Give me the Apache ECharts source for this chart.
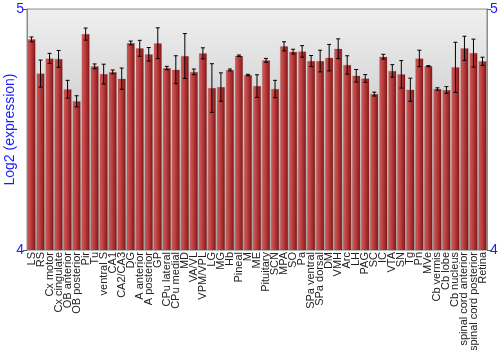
<!DOCTYPE html>
<html><head><meta charset="utf-8">
<script src="https://cdn.jsdelivr.net/npm/echarts@6/dist/echarts.min.js"></script>
<style>html,body{margin:0;padding:0;background:#fff}#c{width:500px;height:350px}</style>
</head><body><div id="c"></div>
<script>
var categories = ["LS","RS","Cx motor","Cx cingulate","OB anterior","OB posterior","Pir","Tu","ventral S","CA1","CA2/CA3","DG","A anterior","A posterior","GP","CPu lateral","CPu medial","MD","VA/VL","VPM/VPL","LG","MG","Hb","Pineal","M","ME","Pituitary","SCN","MPA","SO","Pa","SPa ventral","SPa dorsal","DM","VMH","Arc","LH","PAG","SC","IC","VTA","SN","Tg","Pn","MVe","Cb vermis","Cb lobe","Cb nucleus","spinal cord anterior","spinal cord posterior","Retina"];
var values = [4.874,4.732,4.795,4.793,4.667,4.617,4.896,4.762,4.730,4.739,4.711,4.859,4.837,4.812,4.858,4.755,4.748,4.805,4.739,4.816,4.672,4.676,4.747,4.806,4.726,4.680,4.787,4.668,4.845,4.823,4.824,4.784,4.784,4.798,4.835,4.768,4.723,4.712,4.647,4.802,4.743,4.729,4.665,4.795,4.763,4.668,4.664,4.758,4.837,4.817,4.783];
var errors = [0.010,0.056,0.021,0.035,0.037,0.023,0.025,0.010,0.041,0.008,0.044,0.008,0.033,0.028,0.064,0.007,0.058,0.093,0.012,0.023,0.101,0.059,0.004,0.003,0.003,0.047,0.008,0.036,0.019,0.010,0.024,0.023,0.045,0.055,0.041,0.038,0.026,0.016,0.008,0.010,0.026,0.057,0.048,0.034,0.002,0.005,0.014,0.104,0.050,0.058,0.017];
var yTicks = [4, 5];

var chart = echarts.init(document.getElementById('c'), null, {renderer:'canvas'});
var errData = values.map(function(v,i){return [i, v-errors[i], v+errors[i]];});
var blue = '#1a1aff';
var ff = 'Liberation Sans, Arial, sans-serif';
chart.setOption({
  animation:false,
  grid:{left:27, right:13, top:9, bottom:100, outerBoundsMode:'none', containLabel:false,
    show:true, borderColor:'#8c8c8c', borderWidth:1,
    backgroundColor:{type:'linear',x:0,y:0,x2:0,y2:1,colorStops:[{offset:0,color:'#f0f0f0'},{offset:1,color:'#a8a8a8'}]}},
  xAxis:{type:'category', data:categories,
    axisLine:{show:false}, axisTick:{show:false},
    axisLabel:{interval:0, rotate:90, fontSize:11, color:'#222', margin:2, fontFamily:ff}},
  yAxis:[{type:'value', min:yTicks[0], max:yTicks[1], interval:1,
    name:'Log2 (expression)', nameLocation:'middle', nameGap:10, nameMoveOverlap:false,
    nameTextStyle:{color:blue, fontSize:14, fontFamily:ff},
    axisLine:{show:true, lineStyle:{color:'#8c8c8c'}},
    axisTick:{show:true, length:4, lineStyle:{color:'#555'}},
    splitLine:{show:false},
    axisLabel:{color:blue, fontSize:14, margin:3, fontFamily:ff}},
   {type:'value', min:yTicks[0], max:yTicks[1], interval:1, position:'right',
    axisLine:{show:true, lineStyle:{color:'#8c8c8c'}},
    axisTick:{show:true, length:4, lineStyle:{color:'#555'}},
    splitLine:{show:false},
    axisLabel:{color:blue, fontSize:14, margin:3, fontFamily:ff}}],
  series:[{type:'bar', data:values, barCategoryGap:'12%',
    itemStyle:{color:{type:'linear',x:0,y:0,x2:1,y2:0,colorStops:[
      {offset:0,color:'#cf5c5c'},{offset:0.35,color:'#c04444'},{offset:0.75,color:'#9e2626'},{offset:1,color:'#761414'}]},
      borderColor:'rgba(120,60,60,0.35)', borderWidth:0.5}},
   {type:'custom', data:errData, z:10,
    renderItem:function(params, api){
      var x = api.value(0);
      var lo = api.coord([x, api.value(1)]);
      var hi = api.coord([x, api.value(2)]);
      var w = 2;
      var st = {stroke:'#000', lineWidth:1};
      return {type:'group', children:[
        {type:'line', shape:{x1:lo[0],y1:lo[1],x2:hi[0],y2:hi[1]}, style:st},
        {type:'line', shape:{x1:lo[0]-w,y1:lo[1],x2:lo[0]+w,y2:lo[1]}, style:st},
        {type:'line', shape:{x1:hi[0]-w,y1:hi[1],x2:hi[0]+w,y2:hi[1]}, style:st}
      ]};
    }}]
});
</script></body></html>
